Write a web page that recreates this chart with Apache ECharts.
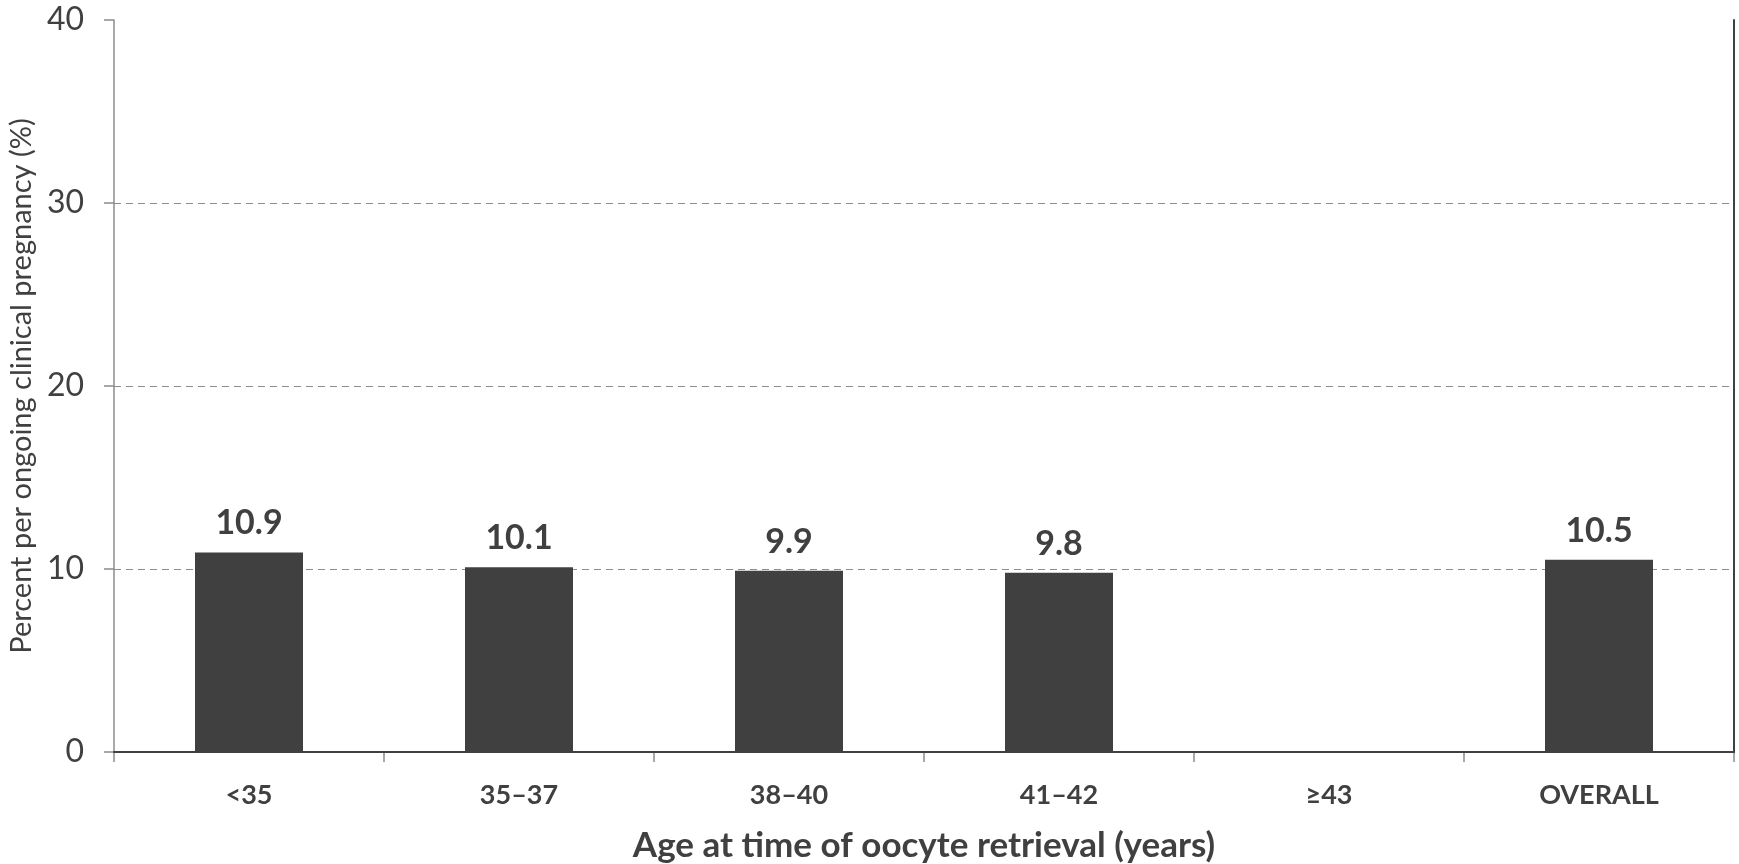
<!DOCTYPE html>
<html>
<head>
<meta charset="utf-8">
<script src="https://cdn.jsdelivr.net/npm/echarts@6/dist/echarts.min.js"></script>
<style>html,body{margin:0;padding:0;background:#fff}#c{width:1739px;height:864px}</style>
</head>
<body>
<div id="c"></div>
<script>
const categories = ['<35', '35–37', '38–40', '41–42', '≥43', 'OVERALL'];
const values = [10.9, 10.1, 9.9, 9.8, null, 10.5];
const yTicks = { min: 0, max: 40, interval: 10 };
const xAxisTitle = 'Age at time of oocyte retrieval (years)';
const yAxisTitle = 'Percent per ongoing clinical pregnancy (%)';

const FONT = 'Lato, "Open Sans", sans-serif';
const TXT = '#404040';
const chart = echarts.init(document.getElementById('c'), null, { renderer: 'canvas' });
chart.setOption({
  animation: false,
  backgroundColor: '#ffffff',
  grid: { left: 114, right: 5, top: 20, bottom: 112, containLabel: false, outerBoundsMode: 'none' },
  xAxis: [{
    type: 'category',
    data: categories,
    axisLine: { lineStyle: { color: '#8c8c8c', width: 1.5 } },
    axisTick: { show: true, alignWithLabel: false, length: 10, lineStyle: { color: '#8c8c8c', width: 1.5 } },
    axisLabel: { color: TXT, fontFamily: FONT, fontWeight: 'bold', fontSize: 27, margin: 30 },
    name: xAxisTitle,
    nameLocation: 'middle',
    nameGap: 76,
    nameTextStyle: { color: TXT, fontFamily: FONT, fontWeight: 'bold', fontSize: 35 }
  }, {
    type: 'category',
    data: categories,
    position: 'top',
    z: 10,
    axisLine: { show: true, lineStyle: { color: '#404040', width: 2 } },
    axisTick: { show: false },
    axisLabel: { show: false }
  }],
  yAxis: [{
    type: 'value',
    min: yTicks.min, max: yTicks.max, interval: yTicks.interval,
    axisLine: { show: true, lineStyle: { color: '#8c8c8c', width: 1.5 } },
    axisTick: { show: true, length: 10, lineStyle: { color: '#8c8c8c', width: 1.5 } },
    axisLabel: { color: TXT, fontFamily: FONT, fontSize: 32, margin: 30 },
    splitLine: { show: true, showMaxLine: false, lineStyle: { color: '#8c8c8c', type: [7, 5], width: 1 } },
    name: yAxisTitle,
    nameLocation: 'middle',
    nameGap: 74,
    nameTextStyle: { color: TXT, fontFamily: FONT, fontSize: 29 }
  }, {
    type: 'value',
    min: yTicks.min, max: yTicks.max, interval: yTicks.interval,
    position: 'right',
    z: 10,
    axisLine: { show: true, lineStyle: { color: '#404040', width: 2 } },
    axisTick: { show: false },
    axisLabel: { show: false },
    splitLine: { show: false }
  }],
  series: [{
    type: 'bar',
    data: values,
    barWidth: '40%',
    itemStyle: { color: '#404040' },
    label: {
      show: true,
      position: 'top',
      distance: 12,
      color: TXT,
      fontFamily: FONT,
      fontWeight: 'bold',
      fontSize: 34,
      formatter: p => p.value == null ? '' : p.value.toFixed(1)
    }
  }]
});
</script>
</body>
</html>
